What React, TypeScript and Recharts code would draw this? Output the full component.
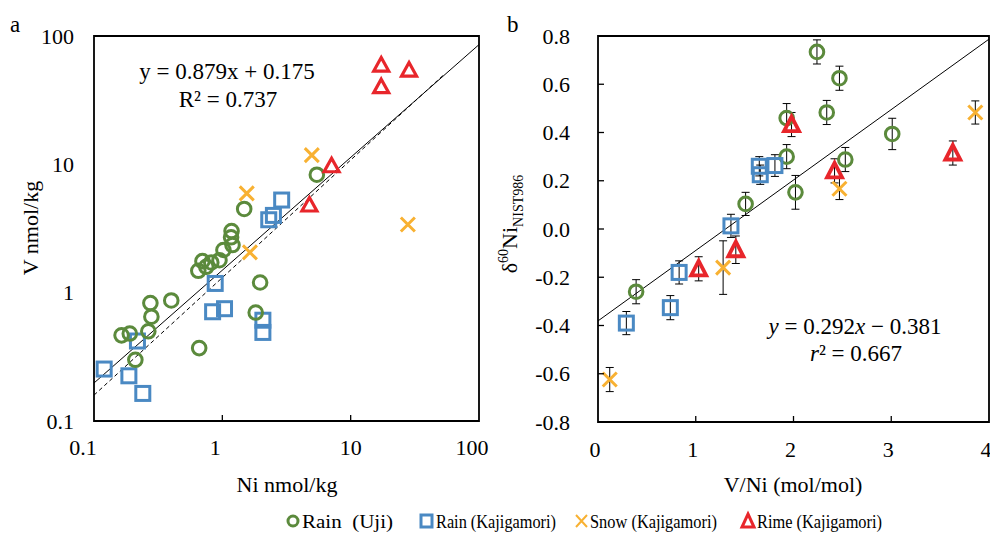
import React from "react";
import {
  ScatterChart,
  Scatter,
  XAxis,
  YAxis,
  ReferenceLine,
  ReferenceArea,
  ErrorBar,
} from "recharts";

const FONT = "'Liberation Serif', 'DejaVu Serif', serif";
const GREEN = "#5b8a3c";
const BLUE = "#4a89c3";
const ORANGE = "#f8b132";
const RED = "#e8262b";

// panel a: Ni vs V (nmol/kg), both log
const ujiNi = [5.45, 1.48, 1.18, 1.17, 1.2, 1.02, 0.95, 0.82, 0.7, 0.75, 0.65, 1.97, 1.82, 0.4, 0.275, 0.28, 0.265, 0.19, 0.164, 0.21, 0.66];
const ujiV = [8.3, 4.49, 3.02, 2.7, 2.35, 2.15, 1.79, 1.72, 1.76, 1.59, 1.48, 1.2, 0.7, 0.87, 0.83, 0.65, 0.5, 0.48, 0.465, 0.3, 0.37];
const kajNi = [2.9, 2.3, 2.5, 0.88, 0.84, 1.04, 2.07, 2.07, 0.218, 0.12, 0.187, 0.24];
const kajV = [5.27, 3.7, 4.0, 1.18, 0.71, 0.75, 0.61, 0.49, 0.42, 0.254, 0.225, 0.164];
const snowNi = [4.98, 1.55, 1.64, 27.9];
const snowV = [11.8, 5.94, 2.06, 3.4];
const rimeNi = [17.3, 28.5, 17.3, 7.1, 4.77];
const rimeV = [59.4, 54.3, 40.3, 9.75, 4.82];
const logTicks = [0.1, 1, 10, 100];
// log-log fit  log(V) = 0.879 log(Ni) + 0.175
const fitSlopeA = 0.879;
const fitInterceptA = 0.175;
const dashedLine = [
  { x: 0.1, y: 0.159 },
  { x: 52.8, y: 49.6 },
];

// panel b: V/Ni vs d60Ni
const ujiRatio = [0.39, 1.51, 1.93, 1.93, 2.02, 2.24, 2.34, 2.47, 2.53, 3.01];
const ujiD60 = [-0.26, 0.104, 0.46, 0.3, 0.152, 0.734, 0.483, 0.625, 0.288, 0.394];
const ujiErr = [0.05, 0.048, 0.06, 0.05, 0.07, 0.05, 0.05, 0.05, 0.05, 0.065];
const kajRatio = [0.29, 0.74, 0.83, 1.36, 1.65, 1.66, 1.81];
const kajD60 = [-0.39, -0.326, -0.18, 0.013, 0.26, 0.225, 0.263];
const kajErr = [0.048, 0.05, 0.048, 0.048, 0.04, 0.04, 0.045];
const snowRatio = [0.12, 1.28, 2.47, 3.86];
const snowD60 = [-0.624, -0.16, 0.167, 0.483];
const snowErr = [0.05, 0.111, 0.045, 0.048];
const rimeRatio = [1.03, 1.41, 1.98, 2.42, 3.63];
const rimeD60 = [-0.165, -0.086, 0.433, 0.241, 0.315];
const rimeErr = [0.05, 0.057, 0.05, 0.05, 0.05];
const ratioTicks = [0, 1, 2, 3, 4];
const d60Ticks = [-0.8, -0.6, -0.4, -0.2, 0, 0.2, 0.4, 0.6, 0.8];
const fitSlopeB = 0.292;
const fitInterceptB = -0.381;

const zip = (xs: number[], ys: number[], es?: number[]) =>
  xs.map((x, i) => ({ x, y: ys[i], err: es ? es[i] : 0 }));

const fitA = (x: number) => Math.pow(10, fitSlopeA * Math.log10(x) + fitInterceptA);

const Circ = (p: any) => (
  <circle cx={p.cx} cy={p.cy} r={6.8} fill="none" stroke={GREEN} strokeWidth={3} />
);
const Sq = (p: any) => (
  <rect x={p.cx - 7} y={p.cy - 7} width={14} height={14} fill="none" stroke={BLUE} strokeWidth={3} />
);
const Cross = (p: any) => (
  <path
    d={`M${p.cx - 7},${p.cy - 7}L${p.cx + 7},${p.cy + 7}M${p.cx + 7},${p.cy - 7}L${p.cx - 7},${p.cy + 7}`}
    stroke={ORANGE}
    strokeWidth={3}
    fill="none"
  />
);
const Tri = (p: any) => (
  <path
    d={`M${p.cx},${p.cy - 7.5}L${p.cx + 7.5},${p.cy + 6}L${p.cx - 7.5},${p.cy + 6}Z`}
    stroke={RED}
    strokeWidth={3.2}
    fill="none"
  />
);
const TriB = (p: any) => (
  <path
    d={`M${p.cx},${p.cy - 8}L${p.cx + 7.5},${p.cy + 6.5}L${p.cx - 7.5},${p.cy + 6.5}Z`}
    stroke={RED}
    strokeWidth={3.8}
    fill="none"
  />
);

const LOG_X_DX: Record<number, number> = { 0.1: -11, 1: -7, 10: 0, 100: -7 };

const LogXTick = ({ x, y, payload }: any) => (
  <g>
    {payload.value > 0.1 && payload.value < 100 && (
      <line x1={x} x2={x} y1={y} y2={y - 6} stroke="#000" strokeWidth={1.3} />
    )}
    <text x={x + (LOG_X_DX[payload.value] ?? 0)} y={y + 34} textAnchor="middle" fontFamily={FONT} fontSize={22} fill="#000">
      {payload.value}
    </text>
  </g>
);

const LogYTick = ({ x, y, payload }: any) => (
  <text x={x - 20} y={y + 7.5} textAnchor="end" fontFamily={FONT} fontSize={22} fill="#000">
    {payload.value}
  </text>
);

const LinXTick = ({ x, y, payload }: any) => (
  <g>
    {payload.value > 0 && payload.value < 4 && (
      <line x1={x} x2={x} y1={y} y2={y - 6} stroke="#000" strokeWidth={1.3} />
    )}
    <text x={x - 3} y={y + 35} textAnchor="middle" fontFamily={FONT} fontSize={22} fill="#000">
      {payload.value}
    </text>
  </g>
);

const LinYTick = ({ x, y, payload }: any) => (
  <g>
    {Math.abs(payload.value) < 0.79 && (
      <line x1={x} x2={x + 6} y1={y} y2={y} stroke="#000" strokeWidth={1.3} />
    )}
    <text x={x - 28} y={y + 7.5} textAnchor="end" fontFamily={FONT} fontSize={22} fill="#000">
      {payload.value.toFixed(1)}
    </text>
  </g>
);

const PanelA = () => (
  <ScatterChart width={500} height={500} margin={{ top: 36, right: 21, bottom: 49, left: 34 }}>
    <XAxis
      type="number"
      dataKey="x"
      scale="log"
      domain={[0.1, 100]}
      ticks={logTicks}
      allowDataOverflow
      axisLine={false}
      tickLine={false}
      tickSize={0}
      tickMargin={0}
      height={30}
      tick={LogXTick}
      interval={0}
    />
    <YAxis
      type="number"
      dataKey="y"
      scale="log"
      domain={[0.1, 100]}
      ticks={logTicks}
      allowDataOverflow
      axisLine={false}
      tickLine={false}
      tickSize={0}
      tickMargin={0}
      width={60}
      tick={LogYTick}
      interval={0}
    />
    <ReferenceArea x1={0.1} x2={100} y1={0.1} y2={100} fill="none" stroke="#000" strokeWidth={1.8} ifOverflow="visible" />
    <ReferenceLine
      segment={[
        { x: 0.1, y: fitA(0.1) },
        { x: 100, y: fitA(100) },
      ]}
      stroke="#000"
      strokeWidth={1}
      ifOverflow="visible"
    />
    <ReferenceLine segment={dashedLine} stroke="#000" strokeWidth={1} strokeDasharray="4 3" ifOverflow="visible" />
    <Scatter data={zip(kajNi, kajV)} shape={Sq} isAnimationActive={false} />
    <Scatter data={zip(ujiNi, ujiV)} shape={Circ} isAnimationActive={false} />
    <Scatter data={zip(snowNi, snowV)} shape={Cross} isAnimationActive={false} />
    <Scatter data={zip(rimeNi, rimeV)} shape={Tri} isAnimationActive={false} />
  </ScatterChart>
);

const PanelB = () => (
  <ScatterChart width={490} height={500} margin={{ top: 36, right: 1, bottom: 48, left: 38 }}>
    <XAxis
      type="number"
      dataKey="x"
      domain={[0, 4]}
      ticks={ratioTicks}
      allowDataOverflow
      axisLine={false}
      tickLine={false}
      tickSize={0}
      tickMargin={0}
      height={30}
      tick={LinXTick}
      interval={0}
    />
    <YAxis
      type="number"
      dataKey="y"
      domain={[-0.8, 0.8]}
      ticks={d60Ticks}
      allowDataOverflow
      axisLine={false}
      tickLine={false}
      tickSize={0}
      tickMargin={0}
      width={60}
      tick={LinYTick}
      interval={0}
    />
    <ReferenceArea x1={0} x2={4} y1={-0.8} y2={0.8} fill="none" stroke="#000" strokeWidth={1.8} ifOverflow="visible" />
    <ReferenceLine
      segment={[
        { x: 0, y: fitInterceptB },
        { x: 4, y: fitSlopeB * 4 + fitInterceptB },
      ]}
      stroke="#000"
      strokeWidth={1}
      ifOverflow="visible"
    />
    <Scatter data={zip(ujiRatio, ujiD60, ujiErr)} shape={Circ} isAnimationActive={false}>
      <ErrorBar dataKey="err" direction="y" width={4} stroke="#000" strokeWidth={1} />
    </Scatter>
    <Scatter data={zip(kajRatio, kajD60, kajErr)} shape={Sq} isAnimationActive={false}>
      <ErrorBar dataKey="err" direction="y" width={4} stroke="#000" strokeWidth={1} />
    </Scatter>
    <Scatter data={zip(snowRatio, snowD60, snowErr)} shape={Cross} isAnimationActive={false}>
      <ErrorBar dataKey="err" direction="y" width={4} stroke="#000" strokeWidth={1} />
    </Scatter>
    <Scatter data={zip(rimeRatio, rimeD60, rimeErr)} shape={TriB} isAnimationActive={false}>
      <ErrorBar dataKey="err" direction="y" width={4} stroke="#000" strokeWidth={1} />
    </Scatter>
  </ScatterChart>
);

const txt = { fontFamily: FONT, fill: "#000" };

const Overlay = () => (
  <svg width={990} height={543} style={{ position: "absolute", left: 0, top: 0, pointerEvents: "none" }}>
    <text x={10} y={32} fontSize={23} {...txt}>a</text>
    <text x={507} y={32} fontSize={23} {...txt}>b</text>
    {/* panel a texts */}
    <text x={227} y={79} fontSize={23} textAnchor="middle" {...txt}>y = 0.879x + 0.175</text>
    <text x={228} y={107} fontSize={23} textAnchor="middle" {...txt}>R² = 0.737</text>
    <text x={287} y={492} fontSize={22} textAnchor="middle" {...txt}>Ni nmol/kg</text>
    <text transform="translate(38,228) rotate(-90)" fontSize={22} textAnchor="middle" {...txt}>V nmol/kg</text>
    {/* panel b texts */}
    <text x={855} y={334} fontSize={23} textAnchor="middle" {...txt}>
      <tspan fontStyle="italic">y</tspan> = 0.292<tspan fontStyle="italic">x</tspan> − 0.381
    </text>
    <text x={856} y={361} fontSize={23} textAnchor="middle" {...txt}>
      <tspan fontStyle="italic">r</tspan>² = 0.667
    </text>
    <text x={793} y={492} fontSize={22} textAnchor="middle" {...txt}>V/Ni (mol/mol)</text>
    <text transform="translate(517,224) rotate(-90)" fontSize={22} textAnchor="middle" {...txt}>
      δ<tspan fontSize={14} dy={-9}>60</tspan>
      <tspan dy={9}>Ni</tspan>
      <tspan fontSize={14} dy={6}>NIST986</tspan>
    </text>
    {/* legend */}
    <g fontSize={19} {...txt}>
      <circle cx={293} cy={521} r={5} fill="none" stroke={GREEN} strokeWidth={3} />
      <text x={302} y={528} textLength={91} lengthAdjust="spacingAndGlyphs" style={{ whiteSpace: "pre" }}>Rain  (Uji)</text>
      <rect x={421} y={515} width={11} height={12} fill="none" stroke={BLUE} strokeWidth={3} />
      <text x={436} y={528} textLength={120} lengthAdjust="spacingAndGlyphs">Rain (Kajigamori)</text>
      <path d="M576,515L587,527M587,515L576,527" stroke={ORANGE} strokeWidth={2} />
      <text x={590} y={528} textLength={127} lengthAdjust="spacingAndGlyphs">Snow (Kajigamori)</text>
      <path d="M748,514L754,527L742,527Z" fill="none" stroke={RED} strokeWidth={3} />
      <text x={757} y={528} textLength={125} lengthAdjust="spacingAndGlyphs">Rime (Kajigamori)</text>
    </g>
  </svg>
);

export default function App() {
  return (
    <div style={{ position: "absolute", left: 0, top: 0, width: 990, height: 543, background: "#fff" }}>
      <div style={{ position: "absolute", left: 0, top: 0 }}>
        <PanelA />
      </div>
      <div style={{ position: "absolute", left: 500, top: 0 }}>
        <PanelB />
      </div>
      <Overlay />
    </div>
  );
}
